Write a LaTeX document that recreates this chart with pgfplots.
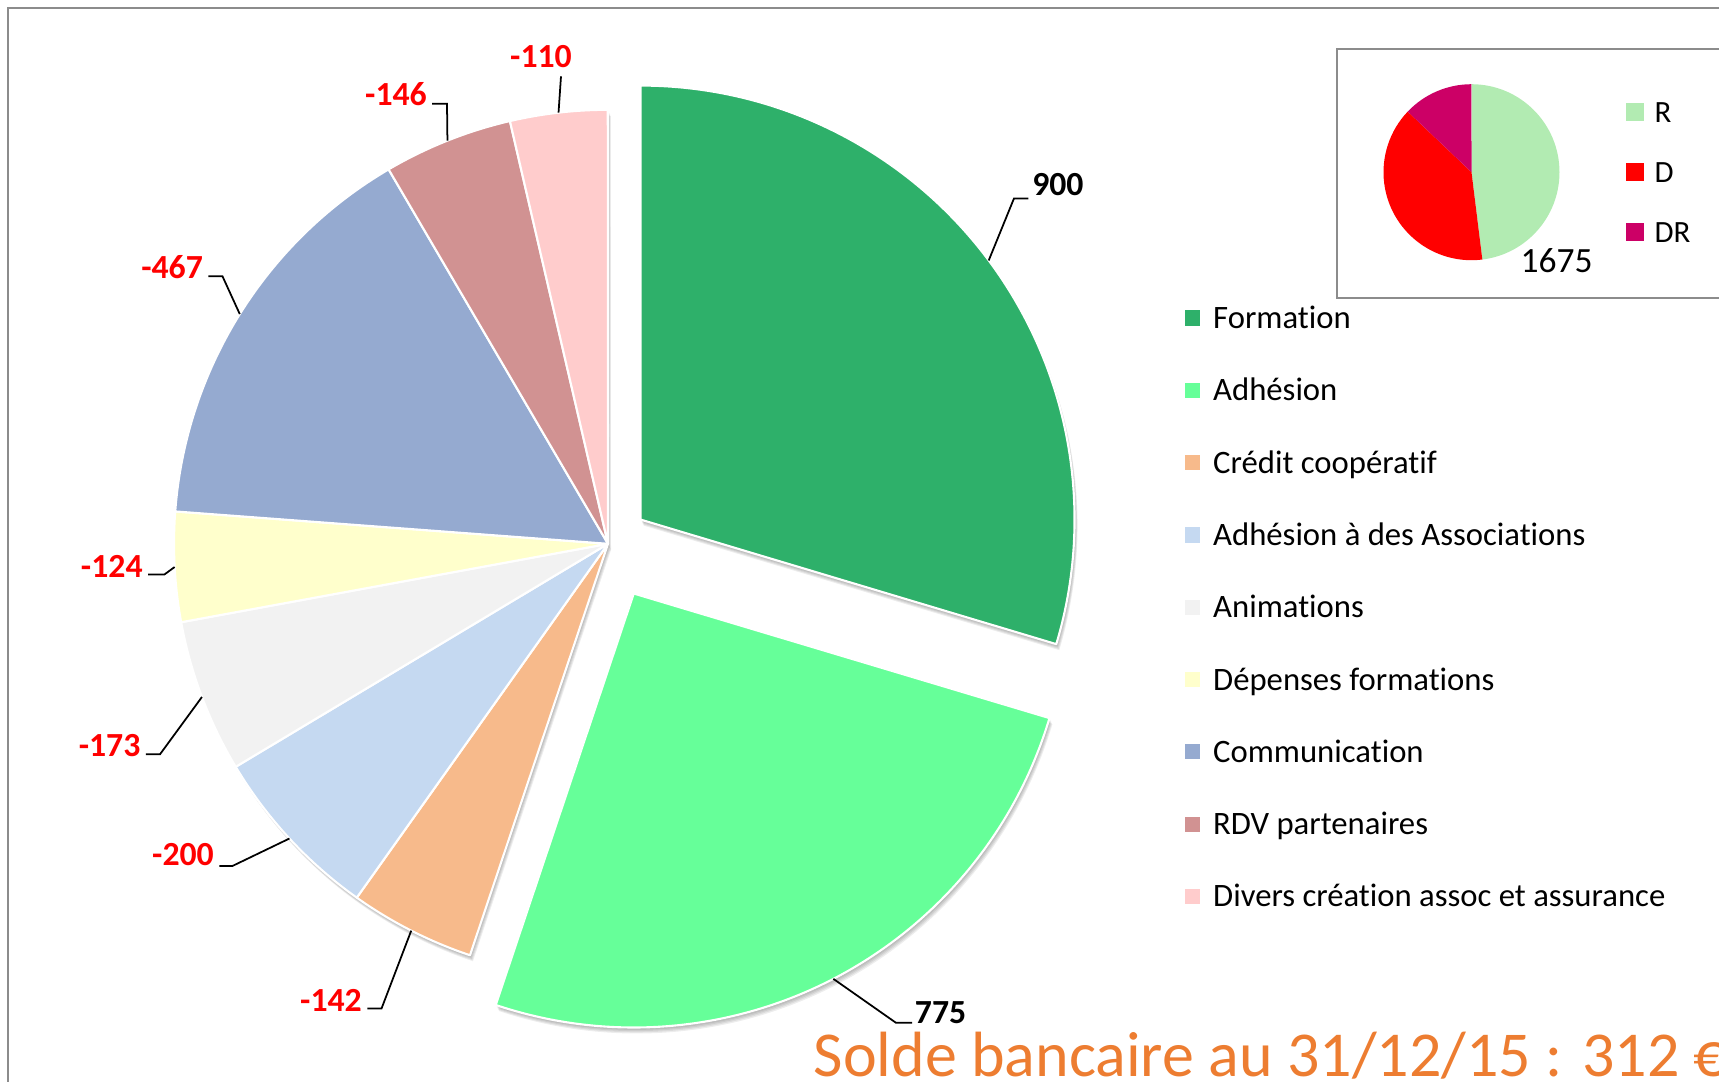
\documentclass[border=0pt]{standalone}
\usepackage{pgfplots}
\pgfplotsset{compat=1.18}
\usepackage{pgfplotstable}
\usepackage{fontspec}
\setmainfont{Carlito}[Ligatures={NoCommon}]

\definecolor{cForm}{RGB}{46,176,106}
\definecolor{cAdh}{RGB}{102,255,153}
\definecolor{cCred}{RGB}{247,186,139}
\definecolor{cAssoc}{RGB}{197,217,241}
\definecolor{cAnim}{RGB}{242,242,242}
\definecolor{cDep}{RGB}{255,255,204}
\definecolor{cComm}{RGB}{149,170,208}
\definecolor{cRdv}{RGB}{209,146,146}
\definecolor{cDiv}{RGB}{255,204,204}
\definecolor{cR}{RGB}{178,235,178}
\definecolor{cD}{RGB}{255,0,0}
\definecolor{cDR}{RGB}{204,0,102}
\definecolor{cTitle}{RGB}{237,125,49}
\definecolor{cFrame}{RGB}{140,140,140}

% main pie: name, value, colour, explosion, label centre (lx,ly), leader elbow (ex,ey), end of leader hx
\pgfplotstableread[col sep=comma]{
name,value,col,explode,lx,ly,ex,ey,hx
Formation,900,cForm,40.6,1057.9,895.7,1014,882.6,1028.3
Adhésion,775,cAdh,56,940.6,68,896,58.2,912
Crédit coopératif,-142,cCred,0,331,80,381.5,72.4,367.3
Adhésion à des Associations,-200,cAssoc,0,183,226,232.4,215,219.3
Animations,-173,cAnim,0,109.6,335.5,160,326.7,145.8
Dépenses formations,-124,cDep,0,111.8,514.2,164.4,506.5,148
Communication,-467,cComm,0,172.1,813.5,222.5,804.7,208.3
RDV partenaires,-146,cRdv,0,396,986.3,447,977.3,432
Divers création assoc et assurance,-110,cDiv,0,541,1024.5,561,1004.7,561
}\pietable

\pgfplotstableread[col sep=comma]{
name,value,col
R,1675,cR
D,1362,cD
DR,450,cDR
}\insettable

\def\cx{608}\def\cy{537.2}\def\R{434}\def\Rlen{43.4mm}
\def\icx{1471.5}\def\icy{908.8}\def\iRlen{8.8mm}

% ---- main pie geometry from the data
\def\total{0}
\pgfplotsforeachungrouped \i in {0,...,8}{%
  \pgfplotstablegetelem{\i}{value}\of\pietable
  \pgfmathsetmacro\total{\total+abs(\pgfplotsretval)}}
\def\acc{90}
\pgfplotsforeachungrouped \i in {0,...,8}{%
  \pgfplotstablegetelem{\i}{value}\of\pietable
  \let\myv\pgfplotsretval
  \expandafter\xdef\csname mV\i\endcsname{\myv}%
  \ifdim \myv pt<0pt \expandafter\xdef\csname mT\i\endcsname{red}%
  \else \expandafter\xdef\csname mT\i\endcsname{black}\fi
  \pgfmathsetmacro\aEnd{\acc-abs(\myv)/\total*360}%
  \pgfmathsetmacro\aMid{(\acc+\aEnd)/2}%
  \pgfplotstablegetelem{\i}{explode}\of\pietable
  \let\mye\pgfplotsretval
  \pgfmathsetmacro\px{\cx+\mye*cos(\aMid)}%
  \pgfmathsetmacro\py{\cy+\mye*sin(\aMid)}%
  \pgfmathsetmacro\qx{\px+\R*cos(\aMid)}%
  \pgfmathsetmacro\qy{\py+\R*sin(\aMid)}%
  \expandafter\xdef\csname mA\i\endcsname{\acc}%
  \expandafter\xdef\csname mB\i\endcsname{\aEnd}%
  \expandafter\xdef\csname mPx\i\endcsname{\px}%
  \expandafter\xdef\csname mPy\i\endcsname{\py}%
  \expandafter\xdef\csname mQx\i\endcsname{\qx}%
  \expandafter\xdef\csname mQy\i\endcsname{\qy}%
  \pgfplotstablegetelem{\i}{col}\of\pietable
  \expandafter\xdef\csname mC\i\endcsname{\pgfplotsretval}%
  \pgfplotstablegetelem{\i}{name}\of\pietable
  \expandafter\xdef\csname mN\i\endcsname{\pgfplotsretval}%
  \pgfplotstablegetelem{\i}{lx}\of\pietable
  \expandafter\xdef\csname mLx\i\endcsname{\pgfplotsretval}%
  \pgfplotstablegetelem{\i}{ly}\of\pietable
  \pgfmathsetmacro\tmp{\pgfplotsretval-10.6}%
  \expandafter\xdef\csname mLy\i\endcsname{\tmp}%
  \pgfplotstablegetelem{\i}{ex}\of\pietable
  \expandafter\xdef\csname mEx\i\endcsname{\pgfplotsretval}%
  \pgfplotstablegetelem{\i}{ey}\of\pietable
  \expandafter\xdef\csname mEy\i\endcsname{\pgfplotsretval}%
  \pgfplotstablegetelem{\i}{hx}\of\pietable
  \expandafter\xdef\csname mHx\i\endcsname{\pgfplotsretval}%
  \let\acc\aEnd
}

% ---- inset pie geometry from the data
\def\itotal{0}
\pgfplotsforeachungrouped \i in {0,1,2}{%
  \pgfplotstablegetelem{\i}{value}\of\insettable
  \pgfmathsetmacro\itotal{\itotal+abs(\pgfplotsretval)}}
\def\acc{90}
\pgfplotsforeachungrouped \i in {0,1,2}{%
  \pgfplotstablegetelem{\i}{value}\of\insettable
  \let\myv\pgfplotsretval
  \expandafter\xdef\csname iV\i\endcsname{\myv}%
  \pgfmathsetmacro\aEnd{\acc-abs(\myv)/\itotal*360}%
  \expandafter\xdef\csname iA\i\endcsname{\acc}%
  \expandafter\xdef\csname iB\i\endcsname{\aEnd}%
  \pgfplotstablegetelem{\i}{col}\of\insettable
  \expandafter\xdef\csname iC\i\endcsname{\pgfplotsretval}%
  \pgfplotstablegetelem{\i}{name}\of\insettable
  \expandafter\xdef\csname iN\i\endcsname{\pgfplotsretval}%
  \let\acc\aEnd
}
\expandafter\let\expandafter\iRvalue\csname iV0\endcsname

\newcommand\legfont{\fontsize{9.3}{11}\selectfont}
\newcommand\labfont{\bfseries\fontsize{9.6}{11}\selectfont}
\newcommand\ilegfont{\fontsize{8.8}{10}\selectfont}

\newcommand\mainshadow[2]{% #1 slice, #2 layer
  \edef\temp{\noexpand\fill[black, opacity=0.07, xshift=#2*0.06mm, yshift=-#2*0.12mm]
    (axis cs:\csname mPx#1\endcsname,\csname mPy#1\endcsname) -- ++(\csname mA#1\endcsname:\Rlen)
    arc[start angle=\csname mA#1\endcsname, end angle=\csname mB#1\endcsname, radius=\Rlen] -- cycle;}%
  \temp}
\newcommand\mainslice[1]{%
  \edef\temp{\noexpand\fill[\csname mC#1\endcsname, draw=white, line width=0.6pt, line join=round]
    (axis cs:\csname mPx#1\endcsname,\csname mPy#1\endcsname) -- ++(\csname mA#1\endcsname:\Rlen)
    arc[start angle=\csname mA#1\endcsname, end angle=\csname mB#1\endcsname, radius=\Rlen] -- cycle;}%
  \temp}
\newcommand\mainlabel[1]{%
  \edef\temp{\noexpand\draw[black, line width=0.5pt]
    (axis cs:\csname mQx#1\endcsname,\csname mQy#1\endcsname) --
    (axis cs:\csname mEx#1\endcsname,\csname mEy#1\endcsname) --
    (axis cs:\csname mHx#1\endcsname,\csname mEy#1\endcsname);
    \noexpand\node[anchor=base, inner sep=0pt, text=\csname mT#1\endcsname, font=\noexpand\labfont]
    at (axis cs:\csname mLx#1\endcsname,\csname mLy#1\endcsname) {\csname mV#1\endcsname};}%
  \temp}
\newcommand\mainleg[1]{%
  \pgfmathsetmacro\ly{763-72.3*#1}%
  \edef\temp{\noexpand\fill[\csname mC#1\endcsname]
    (axis cs:1185,\ly-7.6) rectangle (axis cs:1200.2,\ly+7.6);
    \noexpand\node[anchor=base west, inner sep=0pt, font=\noexpand\legfont]
    at (axis cs:1212.5,\ly-10.5) {\csname mN#1\endcsname};}%
  \temp}
\newcommand\insetslice[1]{%
  \edef\temp{\noexpand\fill[\csname iC#1\endcsname]
    (axis cs:\icx,\icy) -- ++(\csname iA#1\endcsname:\iRlen)
    arc[start angle=\csname iA#1\endcsname, end angle=\csname iB#1\endcsname, radius=\iRlen] -- cycle;}%
  \temp}
\newcommand\insetleg[1]{%
  \pgfmathsetmacro\ly{968.7-60*#1}%
  \edef\temp{\noexpand\fill[\csname iC#1\endcsname]
    (axis cs:1626,\ly-9) rectangle (axis cs:1644,\ly+9);
    \noexpand\node[anchor=base west, inner sep=0pt, font=\noexpand\ilegfont]
    at (axis cs:1654,\ly-10) {\csname iN#1\endcsname};}%
  \temp}

\begin{document}
\begin{tikzpicture}
\begin{axis}[name=main, scale only axis, width=171.9mm, height=108.1mm,
  xmin=0, xmax=1719, ymin=0, ymax=1081, hide axis, clip=false]
  % outer chart frame
  \draw[cFrame, line width=0.6pt] (axis cs:8.3,-20) -- (axis cs:8.3,1072.7) -- (axis cs:1740,1072.7);
  % soft shadow of the pie, then the slices
  \pgfplotsinvokeforeach{0,...,8}{\mainshadow{#1}{1}\mainshadow{#1}{2}\mainshadow{#1}{3}\mainshadow{#1}{4}\mainshadow{#1}{5}}
  \pgfplotsinvokeforeach{0,...,8}{\mainslice{#1}}
  \pgfplotsinvokeforeach{0,...,8}{\mainlabel{#1}}
  % legend
  \pgfplotsinvokeforeach{0,...,8}{\mainleg{#1}}
  % inset
  \draw[cFrame, line width=0.6pt] (axis cs:1740,1032) -- (axis cs:1337,1032) -- (axis cs:1337,783) -- (axis cs:1740,783);
  \pgfplotsinvokeforeach{0,1,2}{\insetslice{#1}}
  \pgfplotsinvokeforeach{0,1,2}{\insetleg{#1}}
  \node[anchor=base, inner sep=0pt, font=\fontsize{10.1}{12}\selectfont] at (axis cs:1556.5,809) {\iRvalue};
  % title
  \node[anchor=base west, inner sep=0pt, text=cTitle, font=\fontsize{18.2}{20}\selectfont]
    at (axis cs:813,5) {Solde bancaire au 31/12/15 : 312 €};
\end{axis}
\pgfresetboundingbox
\path[use as bounding box] (main.south west) rectangle (main.north east);
\end{tikzpicture}
\end{document}
